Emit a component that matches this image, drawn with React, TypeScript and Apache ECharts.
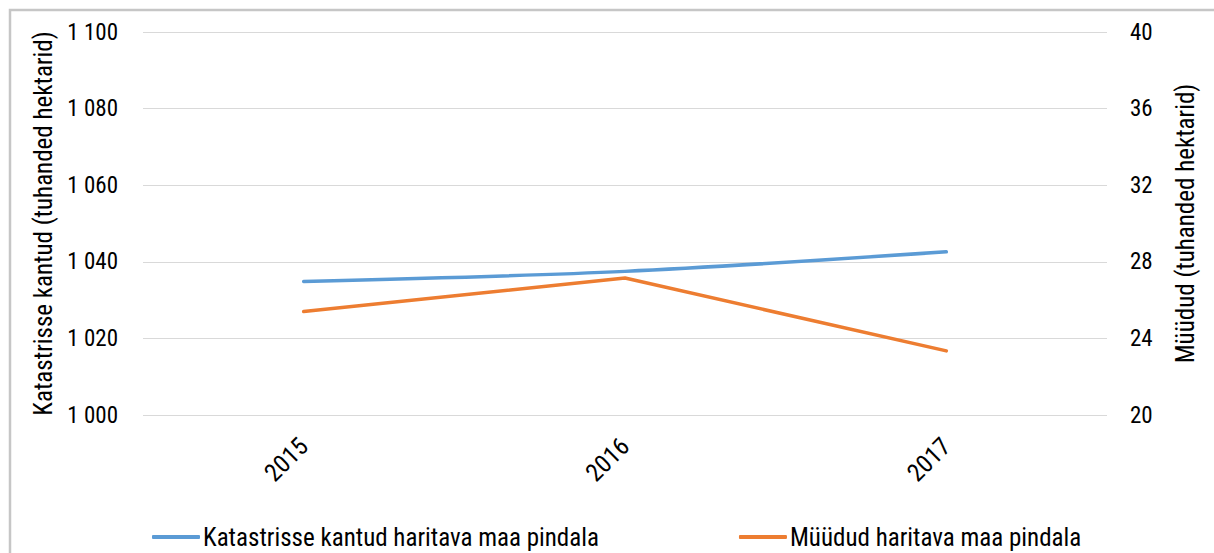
import React, { useEffect, useRef } from "react";
import * as echarts from "echarts";

const years = ["2015", "2016", "2017"];
const registeredArea = [1034.85, 1037.5, 1042.6];
const soldArea = [25.4, 27.15, 23.35];
const leftTicks = { min: 1000, max: 1100, interval: 20 };
const rightTicks = { min: 20, max: 40, interval: 4 };

const FONT = "'Liberation Sans Narrow', 'Roboto Condensed', Roboto, sans-serif";

const fmtThousands = (v: number) =>
  String(v).replace(/\B(?=(\d{3})+(?!\d))/g, " ");

export default function App() {
  const ref = useRef<HTMLDivElement>(null);

  useEffect(() => {
    if (!ref.current) return;
    const chart = echarts.init(ref.current, null, { renderer: "svg" });
    chart.setOption({
      animation: false,
      backgroundColor: "#ffffff",
      textStyle: { fontFamily: FONT },
      graphic: [
        {
          type: "rect",
          shape: { x: 10, y: 10, width: 1230, height: 600 },
          style: { fill: "none", stroke: "#c6c6c6", lineWidth: 2.5 },
          silent: true,
        },
      ],
      grid: { left: 143, right: 107, top: 32, bottom: 138 },
      legend: {
        left: 147,
        top: 519,
        padding: [5, 5, 0, 5],
        itemWidth: 48,
        itemHeight: 4,
        itemGap: 140,
        icon: "roundRect",
        textStyle: {
          fontFamily: FONT,
          fontSize: 25,
          lineHeight: 26,
          color: "#000",
          padding: [0, 0, 0, -2],
        },
        data: [
          "Katastrisse kantud haritava maa pindala",
          "Müüdud haritava maa pindala",
        ],
      },
      xAxis: {
        type: "category",
        data: years,
        boundaryGap: true,
        axisLine: { show: false },
        axisTick: { show: false },
        axisLabel: {
          rotate: 45,
          margin: 27,
          fontFamily: FONT,
          fontSize: 25,
          color: "#000",
        },
      },
      yAxis: [
        {
          type: "value",
          position: "left",
          ...leftTicks,
          name: "Katastrisse kantud (tuhanded hektarid)",
          nameLocation: "middle",
          nameRotate: 90,
          nameGap: 86,
          nameTextStyle: { fontFamily: FONT, fontSize: 25, color: "#000" },
          axisLine: { show: false },
          axisTick: { show: false },
          axisLabel: {
            margin: 25,
            fontFamily: FONT,
            fontSize: 23,
            color: "#000",
            formatter: (v: number) => fmtThousands(v),
          },
          splitLine: { lineStyle: { color: "#d9d9d9", width: 1.2 } },
        },
        {
          type: "value",
          position: "right",
          ...rightTicks,
          name: "Müüdud (tuhanded hektarid)",
          nameLocation: "middle",
          nameRotate: 90,
          nameGap: 66,
          nameTextStyle: { fontFamily: FONT, fontSize: 25, color: "#000" },
          axisLine: { show: false },
          axisTick: { show: false },
          axisLabel: {
            margin: 23,
            fontFamily: FONT,
            fontSize: 23,
            color: "#000",
          },
          splitLine: { show: false },
        },
      ],
      series: [
        {
          name: "Katastrisse kantud haritava maa pindala",
          type: "line",
          yAxisIndex: 0,
          data: registeredArea,
          smooth: 0.3,
          symbol: "none",
          lineStyle: { color: "#5b9bd5", width: 3.5, cap: "round" },
          itemStyle: { color: "#5b9bd5" },
        },
        {
          name: "Müüdud haritava maa pindala",
          type: "line",
          yAxisIndex: 1,
          data: soldArea,
          symbol: "none",
          lineStyle: { color: "#ed7d31", width: 3.5, cap: "round" },
          itemStyle: { color: "#ed7d31" },
        },
      ],
    });
    return () => chart.dispose();
  }, []);

  return (
    <div
      ref={ref}
      style={{ position: "fixed", left: 0, top: 0, width: 1214, height: 553 }}
    />
  );
}
